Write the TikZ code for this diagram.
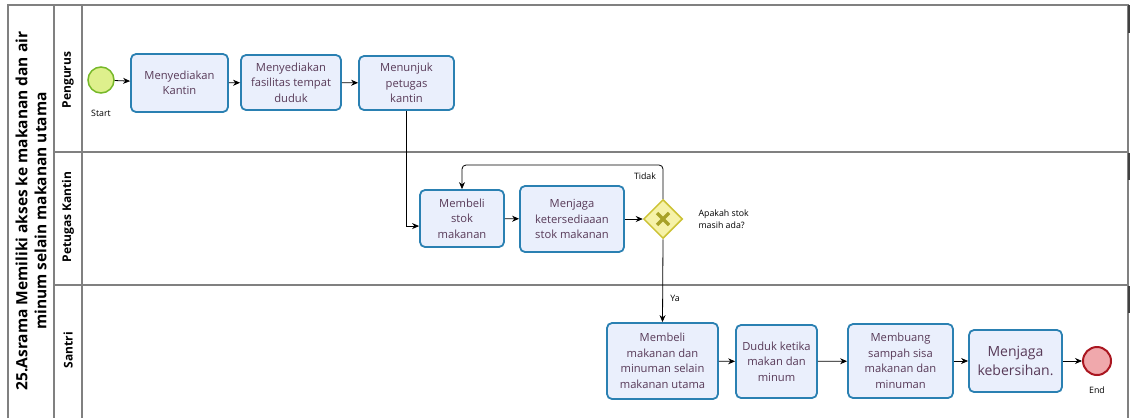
\documentclass[tikz,border=0pt]{standalone}
\usepackage{fontspec}
\setmainfont{Open Sans}
\usetikzlibrary{arrows.meta,shapes.geometric}
\definecolor{laneline}{RGB}{128,128,128}
\definecolor{taskfill}{RGB}{234,239,252}
\definecolor{taskdraw}{RGB}{42,128,178}
\definecolor{tasktext}{RGB}{88,58,88}
\definecolor{startfill}{RGB}{222,240,140}
\definecolor{startdraw}{RGB}{118,184,40}
\definecolor{endfill}{RGB}{240,168,172}
\definecolor{enddraw}{RGB}{170,22,32}
\definecolor{gwfill}{RGB}{246,242,168}
\definecolor{gwdraw}{RGB}{204,194,52}
\definecolor{gwmark}{RGB}{168,162,40}
\begin{document}
\begin{tikzpicture}[x=1pt,y=-1pt,
  task/.style={draw=taskdraw,line width=1.8pt,fill=taskfill,rounded corners=5pt,
    align=center,text=tasktext,font=\fontsize{11.2}{15.5}\selectfont,inner sep=1pt},
  flow/.style={-{Stealth[length=7pt,width=6pt]},line width=0.8pt},
  small/.style={font=\fontsize{8.8}{12}\selectfont},
  lanetitle/.style={rotate=90,font=\bfseries\fontsize{12}{14}\selectfont}]
\useasboundingbox(0,0)rectangle(1134,418);
% pool and lanes
\draw[laneline,line width=1.2pt](8,418)--(8,5)--(1128,5)--(1128,418);
\draw[laneline,line width=1.2pt](54,5)--(54,418);
\draw[laneline,line width=1.2pt](82,5)--(82,418);
\draw[laneline,line width=1.2pt](54,152)--(1128,152);
\draw[laneline,line width=1.2pt](54,285)--(1128,285);
\draw[black!75,line width=2pt](1129,5)--(1129,33);
\draw[black!75,line width=2pt](1129,153)--(1129,180);
\draw[black!75,line width=2pt](1129,286)--(1129,313);
\node[rotate=90,align=center,font=\bfseries\fontsize{15.5}{19}\selectfont](pool)at(31,211)
  {25.Asrama Memiliki akses ke makanan dan air\\minum selain makanan utama};
\node[lanetitle](pengurus)at(68,80){Pengurus};
\node[lanetitle](petugas)at(68,217){Petugas Kantin};
\node[lanetitle](santri)at(68,350){Santri};
% events
\node[circle,draw=startdraw,fill=startfill,line width=1.5pt,minimum size=26pt,inner sep=0](start)at(101,80){};
\node[small](startlbl)at(101,113){Start};
\node[circle,draw=enddraw,fill=endfill,line width=2pt,minimum size=28pt,inner sep=0](end)at(1097,361){};
\node[small](endlbl)at(1097,390){End};
% tasks
\node[task,minimum width=97pt,minimum height=58pt](kantin)at(179.5,83){Menyediakan\\Kantin};
\node[task,minimum width=100pt,minimum height=55pt](duduk)at(291,82.5){Menyediakan\\fasilitas tempat\\duduk};
\node[task,minimum width=95pt,minimum height=54pt](tunjuk)at(406.5,83){Menunjuk\\petugas\\kantin};
\node[task,minimum width=84pt,minimum height=57pt](stok)at(462,218.5){Membeli\\stok\\makanan};
\node[task,minimum width=104pt,minimum height=66pt](jaga)at(572,219){Menjaga\\ketersediaaan\\stok makanan};
\node[task,minimum width=111pt,minimum height=76pt](beli)at(662.5,361){Membeli\\makanan dan\\minuman selain\\makanan utama};
\node[task,minimum width=81pt,minimum height=73pt](makan)at(776.5,361.5){Duduk ketika\\makan dan\\minum};
\node[task,minimum width=105pt,minimum height=74pt](sampah)at(900.5,361){Membuang\\sampah sisa\\makanan dan\\minuman};
\node[task,minimum width=93pt,minimum height=62pt,font=\fontsize{14}{19}\selectfont](bersih)at(1015.5,361){Menjaga\\kebersihan.};
% gateway
\node[diamond,draw=gwdraw,fill=gwfill,line width=1.5pt,minimum size=39pt,inner sep=0](gw)at(663,219){};
\draw[gwmark,line width=3.5pt](657,213)--(669,225)(657,225)--(669,213);
\node[small,align=left,anchor=west](tanya)at(695,219.5){Apakah stok\\masih ada?};
% flows
\draw[flow](start)--(kantin);
\draw[flow](kantin)--(duduk);
\draw[flow](duduk)--(tunjuk);
\draw[flow](tunjuk.south)|-(stok.190);
\draw[flow](stok)--(jaga);
\draw[flow](jaga)--(gw);
\coordinate(tidak)at(560,165);
\draw[flow,rounded corners=4pt](gw.north)|-(tidak)-|(stok.north);
\node[small](tidaklbl)at(645,176){Tidak};
\draw[flow](gw.south)--(beli.north);
\node[small](yalbl)at(675,298){Ya};
\draw[flow](beli)--(makan);
\draw[flow](makan)--(sampah);
\draw[flow](sampah)--(bersih);
\draw[flow](bersih)--(end);
\end{tikzpicture}
\end{document}
